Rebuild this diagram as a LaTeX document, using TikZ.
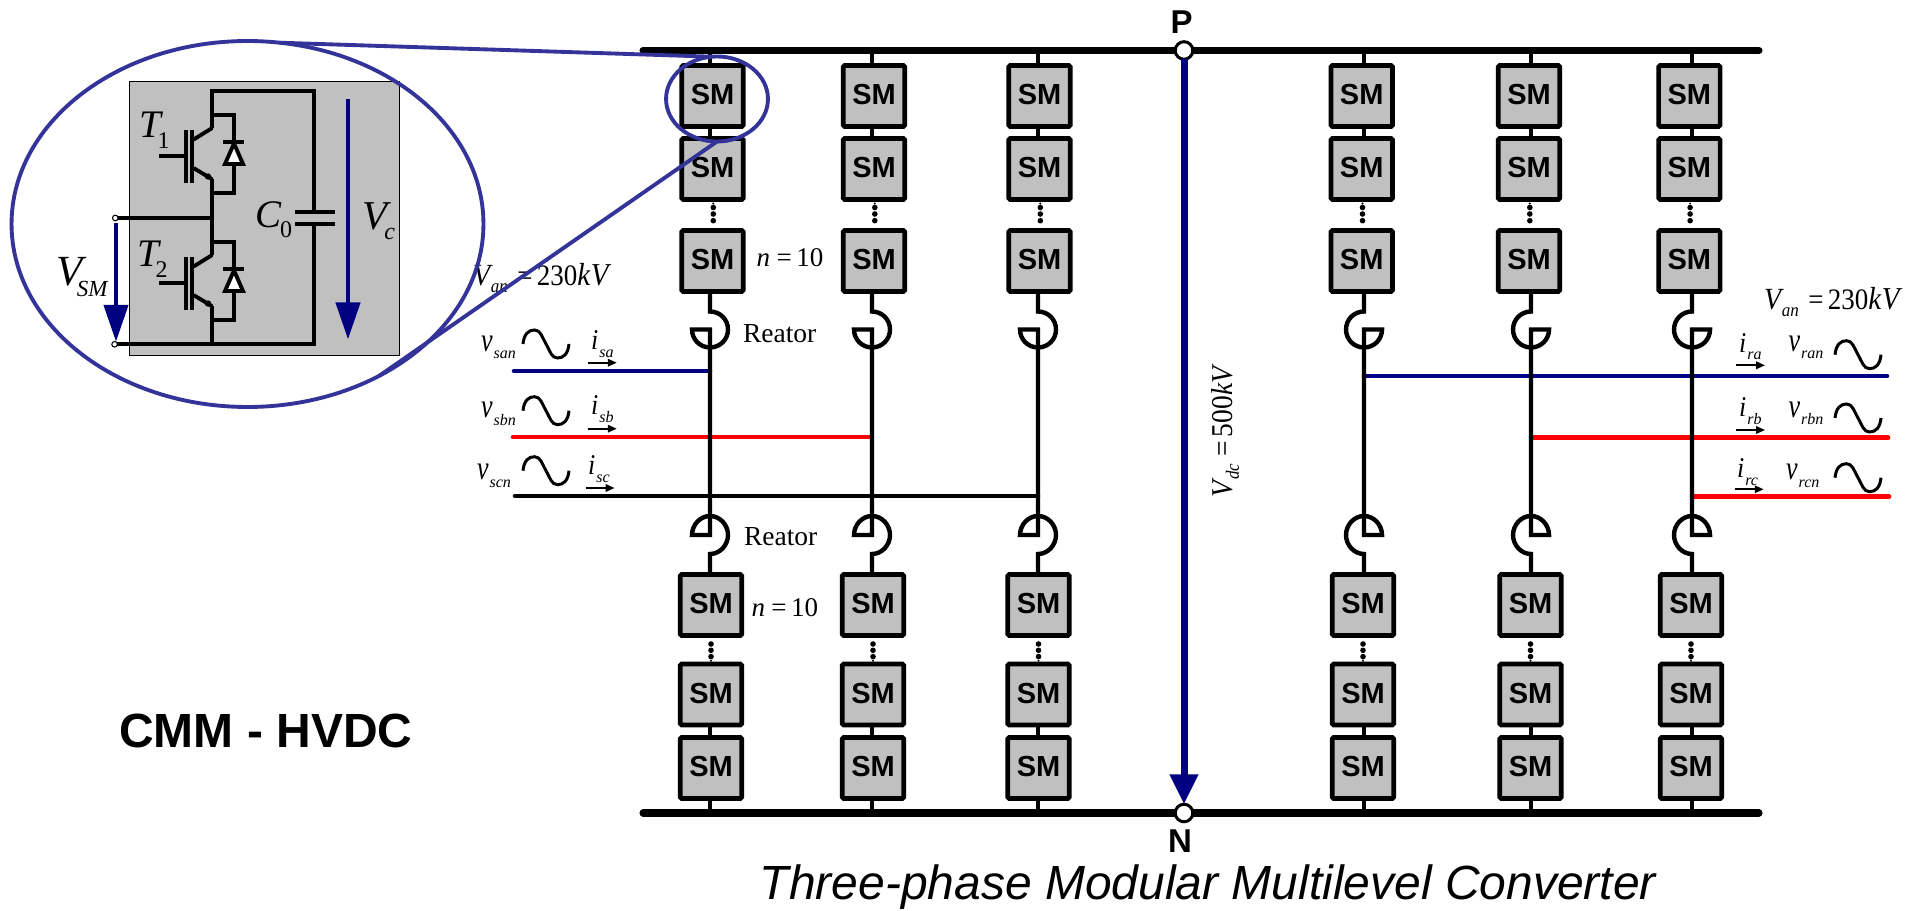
\documentclass[tikz,border=0pt]{standalone}
\usepackage{fontspec}
\setmainfont{Liberation Sans}
\newfontfamily\tms{Liberation Serif}
\usetikzlibrary{arrows.meta,shapes.geometric}
\definecolor{navyb}{HTML}{000080}
\definecolor{zoomb}{HTML}{333399}
\definecolor{smgray}{HTML}{C0C0C0}
\newcommand\fpx[1]{\fontsize{\fpeval{#1*0.569}pt}{\fpeval{#1*0.6}pt}\selectfont}
\tikzset{
  bus/.style={line width=4pt,line cap=round},
  wire/.style={line width=2.5pt},
  phase/.style={line width=2.6pt,line cap=round},
  cct/.style={line width=2.2pt,line join=miter},
  smbox/.style={draw,line width=2.6pt,fill=smgray,rounded corners=0.8pt,minimum width=35pt,minimum height=34.7pt,inner sep=0,outer sep=0,text depth=1.8pt,font=\bfseries\fpx{29}},
  lab/.style={anchor=base west,inner sep=0,outer sep=0,font=\tms\itshape},
  wave/.style={line width=1.7pt},
  iarrow/.style={line width=1pt,-{Triangle[length=5pt,width=4.2pt]}},
  bigarrow/.style={navyb,line width=4pt,-{Triangle[length=17pt,width=15.4pt]}},
  cctarrow/.style={navyb,line width=2.4pt,-{Triangle[length=21pt,width=13.7pt]}},
  zoomline/.style={zoomb,line width=2.2pt},
  zoomell/.style={ellipse,draw=zoomb,line width=2.2pt,inner sep=0,outer sep=0},
  pole/.style={circle,draw,fill=white,line width=1.7pt,minimum size=10pt,inner sep=0,outer sep=0},
  term/.style={circle,draw,fill=white,line width=0.6pt,minimum size=3.2pt,inner sep=0,outer sep=0},
}
\newcommand\sinewave[2]{\draw[wave] (#1,#2) .. controls +(1,-10) and +(-6,0) .. ++(11.5,-14) .. controls +(6,0) and +(-4,-7) .. ++(11.5,14) .. controls +(4,7) and +(-6,0) .. ++(11.5,14) .. controls +(6,0) and +(-1,10) .. ++(11.5,-14);}
\newcommand\vlab[4]{\node[lab] (#1) at (#2,#3) {\fpx{26}\scalebox{1}[1.3]{v}\kern0.6pt\raisebox{-4pt}{\fpx{16}#4}};}
\newcommand\ilab[4]{\node[lab] (#1) at (#2,#3) {\fpx{26}\scalebox{1}[1.1]{i}\kern0.6pt\raisebox{-4pt}{\fpx{16}#4}};}
\newcommand\iarr[3]{\coordinate (#1a) at (#2,#3);\coordinate (#1b) at (#2+29,#3);\draw[iarrow] (#1a) -- (#1b);}
\newcommand\vantext{\scalebox{1}[1.1]{\fpx{28}V\kern0.4pt\raisebox{-3.4pt}{\fpx{17}an}\kern5.5pt\textup{\fpx{27}=\kern2.4pt 230}\fpx{29}k\kern0.3pt V}}
\newcommand\ntext{\fpx{27}n\kern3.6pt\textup{=\kern2.6pt 10}}
\begin{document}
\begin{tikzpicture}[x=0.02cm,y=-0.02cm]
\useasboundingbox (0,0) rectangle (1919,911);
% wire positions
\foreach \c/\x in {a/710,b/872,c/1038,d/1364,e/1531,f/1692}{\coordinate (w\c) at (\x,0);}
% buses
\coordinate (busTl) at (643,50.5);\coordinate (busTr) at (1759,50.5);
\coordinate (busBl) at (643,813);\coordinate (busBr) at (1759,813);
\draw[bus] (busTl) -- (busTr);
\draw[bus] (busBl) -- (busBr);
% AC phase lines
\coordinate (sa) at (514,371);\coordinate (sb) at (513,437);\coordinate (sc) at (515,496);
\coordinate (ra) at (1887,376);\coordinate (rb) at (1888,437.7);\coordinate (rc) at (1889,496.7);
\draw[phase,navyb] (sa) -- (sa -| wa);
\draw[phase,red] (sb) -- (sb -| wb);
\draw[phase,black] (sc) -- (sc -| wc);
\draw[phase,navyb] (ra) -- (ra -| wd);
\draw[phase,red] (rb) -- (rb -| we);
\draw[phase,red] (rc) -- (rc -| wf);
% arms
\foreach \c/\x/\xt/\xb/\d in {a/710/712.5/711/1,b/872/874/873/1,c/1038/1039.5/1038.5/1,d/1364/1361.7/1363/-1,e/1531/1529/1530.5/-1,f/1692/1689.3/1691/-1}{
  \node[smbox] (t\c1) at (\xt,96) {SM};
  \node[smbox] (t\c2) at (\xt,169) {SM};
  \node[smbox] (t\c3) at (\xt,261) {SM};
  \node[smbox] (b\c1) at (\xb,605) {SM};
  \node[smbox] (b\c2) at (\xb,694.5) {SM};
  \node[smbox] (b\c3) at (\xb,768) {SM};
  \draw[wire] (w\c |- busTl) -- (w\c |- t\c1.north);
  \draw[wire] (w\c |- t\c1.south) -- (w\c |- t\c2.north);
  \draw[wire] (w\c |- b\c2.south) -- (w\c |- b\c3.north);
  \draw[wire] (w\c |- b\c3.south) -- (w\c |- busBl);
  % stacks' dots
  \foreach \yy in {207.5,214,220.7}{\fill (\xt+0.8,\yy) circle[radius=2.8];}
  \fill (\xt+0.8,203.5) circle[radius=1.1];
  \foreach \yy in {644,650.3,656.6}{\fill (\xb,\yy) circle[radius=2.8];}
  \fill (\xb,660.8) circle[radius=1.1];
  % upper reactor, wire to lower reactor
  \draw[wire,line join=miter] (w\c |- t\c3.south) -- (\x,311.5)
     .. controls +({10*\d},0) and +(0,-10) .. ++({18*\d},18)
     .. controls +(0,10) and +({10*\d},0) .. ++({-18*\d},18)
     .. controls +({-10*\d},0) and +(0,10) .. ++({-18*\d},-18)
     -- ++({18*\d},0) -- (\x,516)
     .. controls +({-10*\d},0) and +(0,-10) .. ++({-18*\d},19)
     -- ++({18*\d},0) -- (\x,516)
     .. controls +({10*\d},0) and +(0,-10) .. ++({18*\d},19)
     .. controls +(0,10) and +({10*\d},0) .. ++({-18*\d},19)
     -- (w\c |- b\c1.north);
}
% left labels
\node[lab] (reat1) at (743,343) {\upshape\fpx{27.5}Reator};
\node[lab] (reat2) at (744,545.7) {\upshape\fpx{27.5}Reator};
\node[lab] (n1) at (756.7,266.7) {\ntext};
\node[lab] (n2) at (751.6,616) {\ntext};
\node[lab] (vanl) at (473,286) {\vantext};
\node[lab] (vanr) at (1764,310) {\vantext};
\vlab{vsan}{481}{351.7}{san}
\vlab{vsbn}{481}{418}{sbn}
\vlab{vscn}{477}{480}{scn}
\ilab{isa}{591}{350}{sa}
\ilab{isb}{591}{415}{sb}
\ilab{isc}{588}{475}{sc}
\sinewave{523}{344}
\sinewave{523}{410.7}
\sinewave{523}{470.7}
\iarr{ia}{587.7}{362.7}
\iarr{ib}{587.7}{428.7}
\iarr{ic}{585.5}{488}
% right labels
\vlab{vran}{1788.5}{351.7}{ran}
\vlab{vrbn}{1788.5}{417.7}{rbn}
\vlab{vrcn}{1786}{480}{rcn}
\ilab{ira}{1739}{352.7}{ra}
\ilab{irb}{1739}{417}{rb}
\ilab{irc}{1737}{478}{rc}
\sinewave{1835}{354.7}
\sinewave{1835}{418}
\sinewave{1835}{477.7}
\iarr{iaR}{1736}{365.3}
\iarr{ibR}{1736}{430}
\iarr{icR}{1734.6}{489.3}
% DC poles
\node[pole] (P) at (1184,50.5) {};
\node[pole] (N) at (1184,813) {};
\draw[bigarrow] (P) -- (N);
\node[inner sep=0,font=\bfseries\fpx{33}] (Plab) at (1181.5,22) {P};
\node[inner sep=0,font=\bfseries\fpx{33}] (Nlab) at (1180,841) {N};
\node[lab,rotate=90] (vdc) at (1232.7,497.3) {\scalebox{1}[1.1]{\fpx{27.5}V\kern0.4pt\raisebox{-3.2pt}{\fpx{17}dc}\kern4pt\textup{=\kern2.4pt 500}k\kern0.3pt V}};
% titles
\node[anchor=base west,inner sep=0,font=\bfseries\fpx{48}] (cmm) at (119,747.5) {CMM - HVDC};
\node[anchor=base west,inner sep=0,font=\itshape\fpx{48}] (title) at (759.5,899.3) {Three-phase Modular Multilevel Converter};
% sub-module schematic
\node[draw,line width=0.6pt,fill=smgray,minimum width=153.4pt,minimum height=155.7pt,inner sep=0,outer sep=0] (cell) at (264.7,218.3) {};
\draw[cct] (211.7,128.3) -- (211.7,90.7) -- (314,90.7) -- (314,211.7);
\draw[cct] (314,224) -- (314,344.3) -- (211.7,344.3) -- (211.7,306);
\draw[cct] (211.7,179) -- (211.7,255.3);
\draw[cct] (295,211.7) -- (335,211.7);
\draw[cct] (295,224) -- (335,224);
\foreach \s in {0,127}{
  \begin{scope}[shift={(0,\s)}]
    \draw[cct,line cap=round] (211.7,128.3) -- (194,139.3);
    \draw[cct,line cap=round] (194,168.3) -- (211.7,179);
    \fill (208,176.5) circle[radius=3.2];
    \draw[cct] (186,130) -- (186,183.3);
    \draw[cct] (191.7,130) -- (191.7,183.3);
    \draw[cct] (159,156.3) -- (186,156.3);
    \draw[cct] (211.7,115) -- (234,115) -- (234,192.7) -- (211.7,192.7);
    \draw[cct,fill=white] (234,143.5) -- (243,164) -- (225,164) -- cycle;
    \draw[cct] (223.3,142.3) -- (244.3,142.3);
  \end{scope}
}
\node[term] (tu) at (115.3,218) {};
\node[term] (tl) at (114.6,344.3) {};
\draw[cct] (tu) -- (211.7,218);
\draw[cct] (tl) -- (211.7,344.3);
\coordinate (vsma) at (116,223);\coordinate (vsmb) at (116,341.7);
\draw[cctarrow] (vsma) -- (vsmb);
\coordinate (vca) at (348,99);\coordinate (vcb) at (348,339.3);
\draw[cctarrow] (vca) -- (vcb);
\node[lab] (T1) at (139,138) {\fpx{39}T\kern-1.8pt\raisebox{-6pt}{\upshape\fpx{24}1}};
\node[lab] (T2) at (137,266.7) {\fpx{39}T\kern-1.8pt\raisebox{-6pt}{\upshape\fpx{24}2}};
\node[lab] (C0) at (255,228) {\fpx{39}C\kern-0.5pt\raisebox{-5.5pt}{\upshape\fpx{24}0}};
\node[lab] (Vc) at (362,229.3) {\fpx{41}V\kern-1.5pt\raisebox{-6pt}{\fpx{24}c}};
\node[lab] (Vsm) at (56,286) {\fpx{43}V\kern-3pt\raisebox{-5.7pt}{\fpx{23}SM}};
% zoom callout
\node[zoomell,minimum width=268.6pt,minimum height=208.3pt] (bigE) at (247.5,224) {};
\node[zoomell,minimum width=58pt,minimum height=48.4pt] (smallE) at (717,99) {};
\draw[zoomline] (bigE.80) -- (smallE.97);
\draw[zoomline] (bigE.-49) -- (smallE.270);
\end{tikzpicture}
\end{document}
